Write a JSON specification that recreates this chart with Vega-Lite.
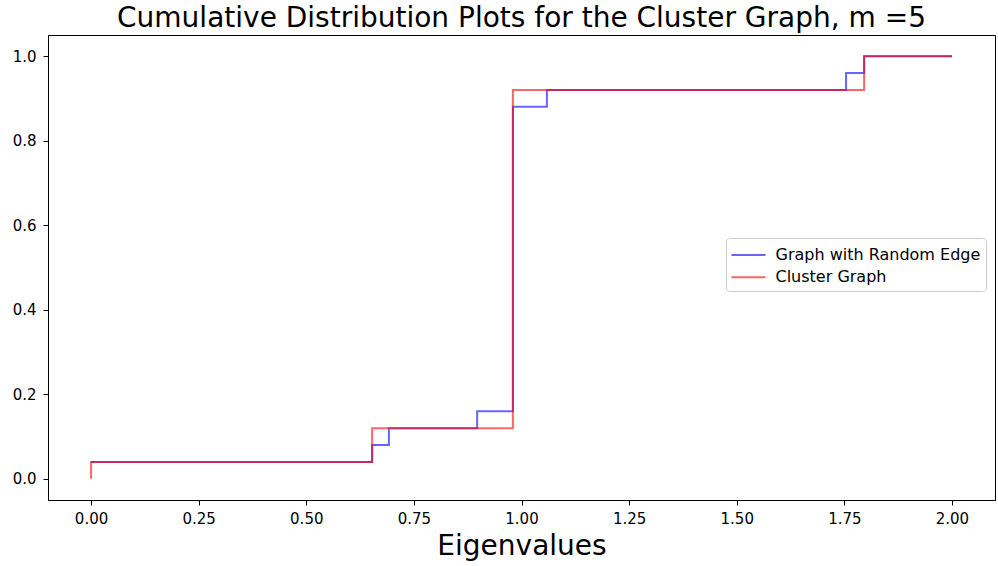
{
  "$schema": "https://vega.github.io/schema/vega-lite/v6.json",
  "width": 947,
  "height": 465,
  "autosize": {"type": "none"},
  "padding": {"left": 48, "top": 35, "right": 3, "bottom": 66},
  "background": "white",
  "config": {
    "font": "DejaVu Sans",
    "view": {"stroke": "black", "strokeWidth": 1},
    "axis": {
      "grid": false,
      "domainColor": "black",
      "tickColor": "black",
      "tickSize": 5,
      "labelColor": "black",
      "labelFontSize": 15,
      "labelFont": "DejaVu Sans",
      "labelPadding": 6,
      "titleFont": "DejaVu Sans",
      "titleFontWeight": "normal",
      "titleColor": "black"
    }
  },
  "title": {
    "text": "Cumulative Distribution Plots for the Cluster Graph, m =5",
    "font": "DejaVu Sans",
    "fontSize": 28,
    "fontWeight": "normal",
    "color": "black",
    "anchor": "middle",
    "offset": 2
  },
  "data": {
    "values": [
      {"series": "Graph with Random Edge", "eigenvalue": 0.0, "cdf": 0.04},
      {"series": "Graph with Random Edge", "eigenvalue": 0.653, "cdf": 0.08},
      {"series": "Graph with Random Edge", "eigenvalue": 0.692, "cdf": 0.12},
      {"series": "Graph with Random Edge", "eigenvalue": 0.897, "cdf": 0.16},
      {"series": "Graph with Random Edge", "eigenvalue": 0.98, "cdf": 0.88},
      {"series": "Graph with Random Edge", "eigenvalue": 1.059, "cdf": 0.92},
      {"series": "Graph with Random Edge", "eigenvalue": 1.754, "cdf": 0.96},
      {"series": "Graph with Random Edge", "eigenvalue": 1.796, "cdf": 1.0},
      {"series": "Graph with Random Edge", "eigenvalue": 2.0, "cdf": 1.0},
      {"series": "Cluster Graph", "eigenvalue": 0.0, "cdf": 0.0},
      {"series": "Cluster Graph", "eigenvalue": 0.0, "cdf": 0.04},
      {"series": "Cluster Graph", "eigenvalue": 0.653, "cdf": 0.12},
      {"series": "Cluster Graph", "eigenvalue": 0.98, "cdf": 0.92},
      {"series": "Cluster Graph", "eigenvalue": 1.796, "cdf": 1.0},
      {"series": "Cluster Graph", "eigenvalue": 2.0, "cdf": 1.0}
    ]
  },
  "encoding": {
    "x": {
      "field": "eigenvalue",
      "type": "quantitative",
      "scale": {"domain": [-0.1, 2.1], "nice": false, "zero": false},
      "axis": {
        "title": "Eigenvalues",
        "titleFontSize": 28,
        "titlePadding": 6,
        "values": [0, 0.25, 0.5, 0.75, 1.0, 1.25, 1.5, 1.75, 2.0],
        "format": ".2f"
      }
    },
    "y": {
      "field": "cdf",
      "type": "quantitative",
      "scale": {"domain": [-0.05, 1.05], "nice": false, "zero": false},
      "axis": {
        "title": null,
        "values": [0, 0.2, 0.4, 0.6, 0.8, 1.0],
        "format": ".1f",
        "labelPadding": 7
      }
    },
    "color": {
      "field": "series",
      "type": "nominal",
      "scale": {
        "domain": ["Graph with Random Edge", "Cluster Graph"],
        "range": ["#0000ff", "#ff0000"]
      },
      "legend": {
        "title": null,
        "orient": "none",
        "legendX": 678,
        "legendY": 203,
        "symbolType": "M-1.55,0H1.55",
        "symbolSize": 484,
        "symbolStrokeWidth": 2,
        "symbolOpacity": 0.6,
        "symbolOffset": 5.5,
        "labelFontSize": 16,
        "labelFont": "DejaVu Sans",
        "labelColor": "black",
        "labelLimit": 0,
        "labelOffset": 15,
        "rowPadding": 2.3,
        "padding": 5,
        "strokeColor": "#cccccc",
        "fillColor": "white",
        "cornerRadius": 3
      }
    }
  },
  "layer": [
    {
      "transform": [{"filter": "datum.series === 'Graph with Random Edge'"}],
      "mark": {"type": "line", "interpolate": "step-after", "strokeWidth": 2, "opacity": 0.6}
    },
    {
      "transform": [{"filter": "datum.series === 'Cluster Graph'"}],
      "mark": {"type": "line", "interpolate": "step-after", "strokeWidth": 2, "opacity": 0.6}
    }
  ]
}
